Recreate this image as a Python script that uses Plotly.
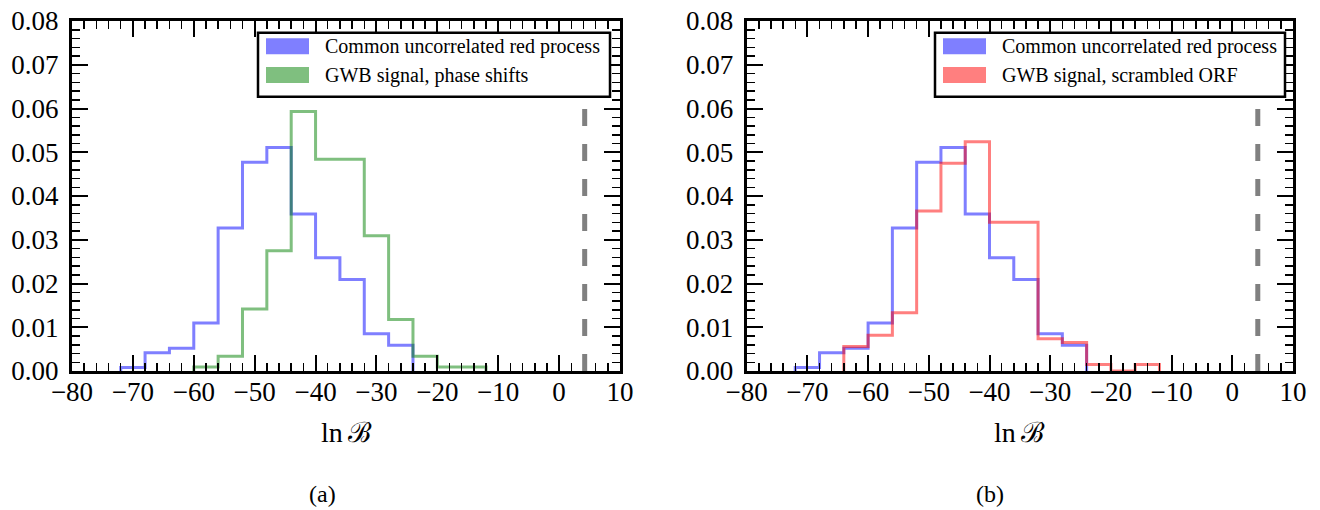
import plotly.graph_objects as go

# ---------------- data ----------------
bin_width = 4
# Common uncorrelated red process (same in both panels)
curp_start = -72
curp_values = [0.0008, 0.0042, 0.0052, 0.0110, 0.0327, 0.0477, 0.0511,
               0.0359, 0.0259, 0.0209, 0.0085, 0.0059]
# GWB signal, phase shifts
phase_start = -60
phase_values = [0.0009, 0.0034, 0.0142, 0.0275, 0.0593, 0.0484, 0.0484,
                0.0309, 0.0118, 0.0034, 0.0009, 0.0009]
# GWB signal, scrambled ORF
orf_start = -64
orf_values = [0.0056, 0.0082, 0.0133, 0.0366, 0.0475, 0.0524, 0.0340,
              0.0340, 0.0074, 0.0065, 0.0015, 0.0, 0.0015]
observed_lnB = 4.2

x_ticks = [-80, -70, -60, -50, -40, -30, -20, -10, 0, 10]
y_ticks = [0.00, 0.01, 0.02, 0.03, 0.04, 0.05, 0.06, 0.07, 0.08]

label_curp = "Common uncorrelated red process"
label_phase = "GWB signal, phase shifts"
label_orf = "GWB signal, scrambled ORF"

BLUE = "rgba(0,0,255,0.5)"
GREEN = "rgba(0,128,0,0.5)"
RED = "rgba(255,0,0,0.5)"

W, H = 1320, 510


def step_xy(start, values):
    edges = [start + bin_width * i for i in range(len(values) + 1)]
    xs = [edges[0]] + edges[:-1] + [edges[-1]]
    ys = [0] + list(values) + [0]
    return xs, ys


def px(x):
    return x / W


def py(y):
    return 1 - y / H


fig = go.Figure()

panels = [
    ("x", "y", [(curp_start, curp_values, BLUE, label_curp),
                (phase_start, phase_values, GREEN, label_phase)]),
    ("x2", "y2", [(curp_start, curp_values, BLUE, label_curp),
                  (orf_start, orf_values, RED, label_orf)]),
]

for xa, ya, series in panels:
    for start, vals, col, name in series:
        xs, ys = step_xy(start, vals)
        fig.add_trace(go.Scatter(x=xs, y=ys, mode="lines", line_shape="hv",
                                 line=dict(color=col, width=3), name=name,
                                 showlegend=False, xaxis=xa, yaxis=ya,
                                 hoverinfo="skip"))

# axes domains (pixels)
left_dom = (72, 620)
right_dom = (746.7, 1293)
top_px, bot_px = 21, 371

font_serif = "Liberation Serif, DejaVu Serif, serif"
tickfont = dict(family=font_serif, size=27, color="black")
common_x = dict(range=[-80, 10], tickvals=x_ticks, ticks="inside", ticklen=16,
                tickwidth=2, tickcolor="black", showline=True, linewidth=3,
                linecolor="black", mirror="allticks", showgrid=False,
                zeroline=False, tickfont=tickfont, ticklabelstandoff=-5,
                automargin=False,
                minor=dict(dtick=2, ticks="inside", ticklen=8, tickwidth=1.5,
                           tickcolor="black", showgrid=False))
common_y = dict(range=[0, 0.08], tickvals=y_ticks, tickformat=".2f",
                ticks="inside", ticklen=16, tickwidth=2, tickcolor="black",
                showline=True, linewidth=3, linecolor="black",
                mirror="allticks", showgrid=False, zeroline=False,
                tickfont=tickfont, ticklabelstandoff=5, automargin=False,
                minor=dict(dtick=0.002, ticks="inside", ticklen=8,
                           tickwidth=1.5, tickcolor="black", showgrid=False),
                domain=[py(bot_px), py(top_px)])

fig.update_layout(
    width=W, height=H,
    margin=dict(l=0, r=0, t=0, b=0, autoexpand=False),
    paper_bgcolor="white", plot_bgcolor="white",
    showlegend=False,
    xaxis=dict(common_x, domain=[px(left_dom[0]), px(left_dom[1])], anchor="y"),
    yaxis=dict(common_y, anchor="x"),
    xaxis2=dict(common_x, domain=[px(right_dom[0]), px(right_dom[1])], anchor="y2"),
    yaxis2=dict(common_y, anchor="x2"),
)

shapes = []
annotations = []

for i, (xa, ya, series) in enumerate(panels):
    dom = left_dom if i == 0 else right_dom
    # observed value dashed line
    shapes.append(dict(type="line", xref=xa, yref=ya, x0=observed_lnB,
                       x1=observed_lnB, y0=0, y1=0.08,
                       line=dict(color="#808080", width=5, dash="17px,18px"),
                       layer="above"))
    # manual legend
    bx0 = dom[0] + 186 if i == 0 else dom[0] + 188.3
    bx1 = dom[1] - 10 if i == 0 else dom[1] - 8
    shapes.append(dict(type="rect", xref="paper", yref="paper",
                       x0=px(bx0), x1=px(bx1), y0=py(96.7), y1=py(32.7),
                       fillcolor="white", line=dict(color="black", width=2.5),
                       layer="above"))
    for j, (start, vals, col, name) in enumerate(series):
        yc = 46.3 + j * 28.7
        shapes.append(dict(type="rect", xref="paper", yref="paper",
                           x0=px(bx0 + 8), x1=px(bx0 + 51),
                           y0=py(yc + 8), y1=py(yc - 8),
                           fillcolor=col, line=dict(width=0), layer="above"))
        annotations.append(dict(x=px(bx0 + 65), y=py(yc), xref="paper",
                                yref="paper", text=name, showarrow=False,
                                xanchor="left", yanchor="middle",
                                font=dict(family=font_serif, size=20,
                                          color="black")))
    # axis title
    cx = (dom[0] + dom[1]) / 2
    annotations.append(dict(x=px(cx), y=py(432), xref="paper", yref="paper",
                            text="ln\u2009ℬ", showarrow=False,
                            xanchor="center", yanchor="middle",
                            font=dict(family=font_serif, size=28,
                                      color="black")))
    # caption
    annotations.append(dict(x=px(322 if i == 0 else 990), y=py(494),
                            xref="paper", yref="paper",
                            text="(a)" if i == 0 else "(b)", showarrow=False,
                            xanchor="center", yanchor="middle",
                            font=dict(family=font_serif, size=24,
                                      color="black")))

fig.update_layout(shapes=shapes, annotations=annotations)
fig.write_html("out.html",
               config={"displayModeBar": False, "staticPlot": True},
               post_script="document.body.style.margin='0';"
                           "document.body.style.overflow='hidden';")
